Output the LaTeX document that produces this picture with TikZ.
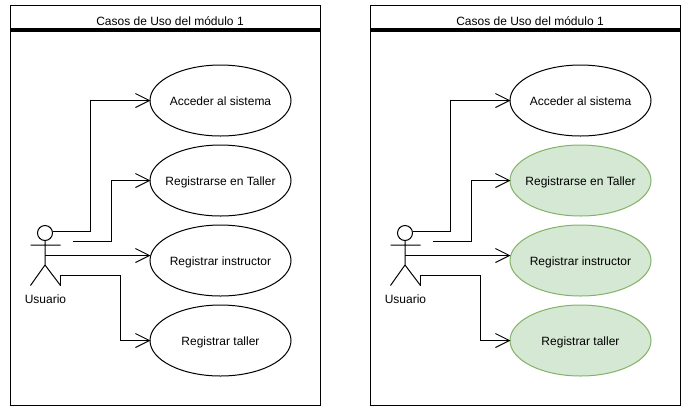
\documentclass[tikz,border=0pt]{standalone}
\usepackage{fontspec}
\setmainfont{Liberation Sans}
\usetikzlibrary{shapes.geometric,arrows.meta}
\definecolor{ucfill}{HTML}{D5E8D4}
\definecolor{ucline}{HTML}{82B366}
\newcommand{\uctext}[1]{\raisebox{-4.5pt}[0pt][0pt]{\makebox[0pt]{#1}}}
\tikzset{
  frame/.style={draw=black,line width=1pt,fill=white,minimum width=310pt,minimum height=400pt,inner sep=0pt},
  rule/.style={line width=3.5pt},
  usecase/.style={ellipse,draw=black,line width=1pt,fill=white,minimum width=141pt,minimum height=71pt,inner sep=0pt,font=\fontsize{12}{14}\selectfont},
  greencase/.style={usecase,draw=ucline,fill=ucfill},
  actorline/.style={line width=1pt},
  conn/.style={line width=1pt,-{Straight Barb[length=14pt,width=14pt,line width=1pt]}},
  label/.style={inner sep=0pt,font=\fontsize{12}{14}\selectfont},
  head/.style={circle,draw=black,line width=1pt,fill=white,minimum size=15pt,inner sep=0pt}
}
\newcommand{\ucpanel}[3]{%
\begin{scope}[xshift=#2pt]
  \node[frame] (#1frame) at (165.5,205.5) {};
  \node[label] (#1title) at (170,21) {Casos de Uso del módulo 1};
  \coordinate (#1ruleL) at (10.5,30);
  \coordinate (#1ruleR) at (320.5,30);
  \draw[rule] (#1ruleL) -- (#1ruleR);
  \node[usecase] (#1a) at (220.5,100.5) {\uctext{Acceder al sistema}};
  \node[#3] (#1b) at (220.5,180.5) {\uctext{Registrarse en Taller}};
  \node[#3] (#1c) at (220.5,260.5) {\uctext{Registrar instructor}};
  \node[#3] (#1d) at (220.5,340.5) {\uctext{Registrar taller}};
  \node[head] (#1head) at (45,233) {};
  \coordinate (#1neck) at (45,240.5);
  \coordinate (#1hip) at (45,265);
  \coordinate (#1armL) at (30.5,245);
  \coordinate (#1armR) at (60.5,245);
  \coordinate (#1legL) at (30.5,285.5);
  \coordinate (#1legR) at (60.5,285.5);
  \draw[actorline] (#1neck) -- (#1hip) (#1armL) -- (#1armR) (#1legL) -- (#1hip) -- (#1legR);
  \node[label] (#1user) at (45.5,299) {Usuario};
  \coordinate (#1s1) at (52.5,231.5);
  \coordinate (#1s2) at (73,241.5);
  \coordinate (#1s3) at (45,255.5);
  \coordinate (#1t1) at (150.5,100.5);
  \coordinate (#1t2) at (150.5,180.5);
  \coordinate (#1t3) at (150.5,255.5);
  \coordinate (#1t4) at (150.5,340.5);
  \draw[conn] (#1s1) -- (90.5,231.5) -- (90.5,100.5) -- (#1t1);
  \draw[conn] (#1s2) -- (111.5,241.5) -- (111.5,180.5) -- (#1t2);
  \draw[conn] (#1s3) -- (#1t3);
  \draw[conn] (#1legR) -- (60.5,275.5) -- (120.5,275.5) -- (120.5,340.5) -- (#1t4);
\end{scope}}
\begin{document}
\begin{tikzpicture}[x=1pt,y=-1pt]
  \useasboundingbox (0,0) rectangle (691,416);
  \ucpanel{l}{0}{usecase}
  \ucpanel{r}{360}{greencase}
\end{tikzpicture}
\end{document}
